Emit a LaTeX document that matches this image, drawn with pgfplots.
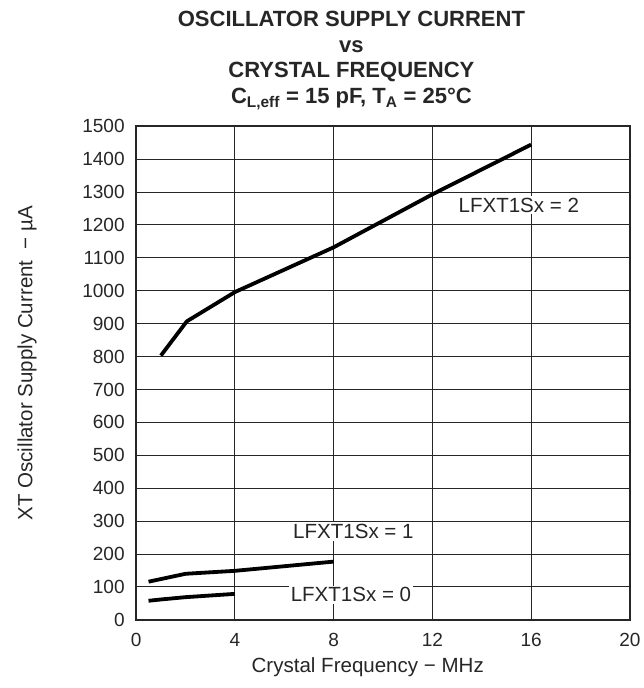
\documentclass[border=0pt]{standalone}
\usepackage{pgfplots}
\pgfplotsset{compat=1.18}
\usepackage{fontspec}
\setmainfont{Liberation Sans}

\begin{document}
\begin{tikzpicture}
\begin{axis}[
  scale only axis,
  width=493pt, height=493pt,
  xmin=0, xmax=20, ymin=0, ymax=1500,
  xtick={0,4,...,20},
  ytick={0,100,...,1500},
  grid=major,
  major grid style={black!85, line width=1pt},
  axis line style={black!85, line width=2.4pt},
  tick style={draw=none},
  clip=false,
  /pgf/number format/assume math mode=true,
  /pgf/number format/set thousands separator={},
  ticklabel style={font=\fontsize{19}{21}\selectfont, text=black!85},
  xticklabel style={yshift=-10pt},
  yticklabel style={xshift=-8pt},
  xlabel={Crystal Frequency − MHz},
  ylabel={XT Oscillator Supply Current\ \ − µA},
  label style={font=\fontsize{20.5}{22}\selectfont, text=black!85},
  xlabel style={at={(axis description cs:0.469,-0.095)}, anchor=center},
  ylabel style={at={(axis description cs:-0.221,0.52)}, anchor=center},
]
\addplot[black, line width=3.8pt, line join=round] coordinates {
  (1,803) (2.05,907) (4,996) (8,1132) (12,1293) (16,1444)};
\addplot[black, line width=3.8pt, line join=round] coordinates {
  (0.5,116) (1,124) (2,140) (4,149) (8,177)};
\addplot[black, line width=3.8pt, line join=round] coordinates {
  (0.5,58) (1,62) (2,69) (4,79)};
\node[fill=white, inner sep=2pt, font=\fontsize{20.5}{22}\selectfont, text=black!85] at (axis cs:8.8,268) {LFXT1Sx = 1};
\node[fill=white, inner sep=2pt, font=\fontsize{20.5}{22}\selectfont, text=black!85] at (axis cs:8.7,76) {LFXT1Sx = 0};
\node[fill=white, inner sep=2pt, font=\fontsize{20.5}{22}\selectfont, text=black!85] at (axis cs:15.5,1260) {LFXT1Sx = 2};
\node[anchor=south, align=center, inner sep=0pt, yshift=16pt,
  font=\bfseries\fontsize{22}{25.7}\selectfont, text=black!85] at (rel axis cs:0.436,1)
  {OSCILLATOR SUPPLY CURRENT\\vs\\CRYSTAL FREQUENCY\\C\textsubscript{L,eff} = 15 pF, T\textsubscript{A} = 25°C};
\path[draw=none] (rel axis cs:-0.2759,-0.138) rectangle (rel axis cs:1.0203,1.2556);
\end{axis}
\end{tikzpicture}
\end{document}
